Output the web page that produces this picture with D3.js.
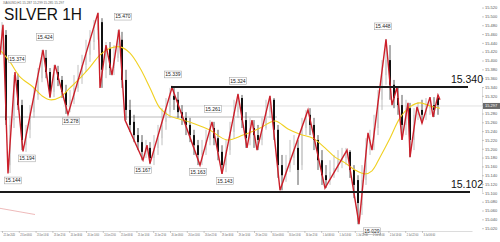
<!DOCTYPE html>
<html><head><meta charset="utf-8">
<script src="https://cdn.jsdelivr.net/npm/d3@7"></script>
<style>html,body{margin:0;padding:0;background:#fff;overflow:hidden}</style>
</head><body><svg id="c" width="500" height="242"></svg>
<script>
// ---------- DATA ----------
const cOpen = [15.424,15.458,15.163,15.265,15.356,15.299,15.208,15.243,15.283,15.322,
15.360,15.406,15.374,15.329,15.374,15.356,15.329,15.299,15.311,15.338,
15.360,15.390,15.413,15.442,15.469,15.487,15.379,15.428,15.383,15.406,
15.447,15.356,15.288,15.261,15.231,15.215,15.193,15.202,15.179,15.202,
15.224,15.261,15.283,15.320,15.311,15.283,15.270,15.254,15.231,15.208,
15.186,15.197,15.220,15.247,15.224,15.193,15.163,15.197,15.238,15.283,
15.315,15.265,15.224,15.247,15.231,15.220,15.247,15.283,15.311,15.243,
15.163,15.140,15.156,15.179,15.202,15.163,15.247,15.277,15.254,15.220,
15.174,15.140,15.129,15.147,15.156,15.174,15.179,15.193,15.152,15.129,
15.072,15.129,15.197,15.220,15.247,15.311,15.367,15.401,15.345,15.315,
15.299,15.254,15.292,15.220,15.277,15.288,15.277,15.292,15.299,15.315];
const cHigh = [15.487,15.469,15.270,15.367,15.370,15.311,15.254,15.299,15.338,15.383,
15.424,15.424,15.383,15.390,15.388,15.365,15.345,15.333,15.367,15.390,
15.413,15.447,15.469,15.492,15.508,15.496,15.442,15.442,15.435,15.469,
15.465,15.379,15.311,15.277,15.247,15.231,15.220,15.215,15.231,15.254,
15.292,15.315,15.338,15.340,15.329,15.299,15.283,15.270,15.243,15.220,
15.220,15.243,15.265,15.261,15.243,15.208,15.220,15.261,15.311,15.326,
15.322,15.283,15.270,15.265,15.254,15.270,15.311,15.320,15.315,15.254,
15.186,15.186,15.220,15.231,15.220,15.270,15.288,15.292,15.270,15.231,
15.197,15.163,15.174,15.186,15.197,15.202,15.202,15.197,15.163,15.140,
15.163,15.224,15.243,15.277,15.333,15.401,15.449,15.435,15.356,15.340,
15.322,15.311,15.304,15.292,15.306,15.311,15.315,15.317,15.317,15.322];
const cLow = [15.413,15.254,15.145,15.247,15.288,15.197,15.193,15.224,15.270,15.311,
15.351,15.360,15.315,15.317,15.342,15.315,15.279,15.283,15.301,15.329,
15.347,15.374,15.397,15.424,15.447,15.338,15.360,15.367,15.367,15.397,
15.338,15.265,15.238,15.215,15.197,15.174,15.179,15.165,15.163,15.186,
15.208,15.243,15.270,15.288,15.270,15.254,15.231,15.215,15.186,15.163,
15.163,15.186,15.208,15.208,15.174,15.143,15.147,15.186,15.224,15.270,
15.247,15.202,15.208,15.202,15.197,15.208,15.243,15.270,15.220,15.134,
15.106,15.125,15.147,15.163,15.118,15.152,15.231,15.231,15.197,15.152,
15.118,15.111,15.118,15.134,15.147,15.156,15.163,15.134,15.088,15.029,
15.050,15.118,15.186,15.197,15.231,15.288,15.345,15.311,15.292,15.277,
15.220,15.231,15.181,15.197,15.265,15.258,15.265,15.277,15.272,15.277];
const cClose = [15.469,15.265,15.254,15.345,15.299,15.220,15.243,15.283,15.322,15.360,
15.406,15.374,15.329,15.374,15.356,15.329,15.299,15.311,15.338,15.360,
15.390,15.413,15.442,15.469,15.492,15.379,15.428,15.383,15.406,15.451,
15.356,15.288,15.254,15.231,15.215,15.193,15.202,15.179,15.202,15.224,
15.261,15.283,15.320,15.311,15.283,15.270,15.254,15.231,15.208,15.186,
15.197,15.220,15.247,15.224,15.193,15.163,15.197,15.238,15.283,15.315,
15.265,15.224,15.247,15.231,15.220,15.247,15.283,15.311,15.243,15.163,
15.140,15.156,15.179,15.197,15.152,15.247,15.277,15.254,15.220,15.174,
15.140,15.129,15.147,15.156,15.174,15.179,15.193,15.152,15.118,15.077,
15.129,15.197,15.220,15.247,15.311,15.367,15.401,15.345,15.315,15.299,
15.254,15.292,15.220,15.277,15.288,15.277,15.292,15.299,15.288,15.299];

// zigzag pivots (bar position, price)
const zzIdx = [0,0.75,2,3.75,5.75,10.75,12.5,13.75,17,24.5,25,26.5,28,29.75,31.25,35.75,36.75,37.5,43,50,53,55.5,59.5,61.75,63,64.25,67.5,70,77,81.25,86.75,89.75,92,93,96.5,98,99.25,100.5,102,102.5,104.25,105.5,107.5,108.25,109.5,110];
const zzPrice = [15.413,15.481,15.144,15.374,15.194,15.424,15.317,15.390,15.278,15.508,15.338,15.435,15.367,15.470,15.265,15.174,15.208,15.167,15.339,15.163,15.261,15.143,15.324,15.202,15.265,15.197,15.320,15.106,15.288,15.111,15.197,15.029,15.236,15.197,15.448,15.299,15.340,15.220,15.304,15.181,15.295,15.258,15.317,15.272,15.322,15.311];

// moving average
const maIdx = [0,2.5,5,8.25,10.5,12.5,15,17.5,20,22.5,25,27.5,30,32.5,35,37.5,40,42.5,45,48.75,52.5,56.75,60.75,65,68.75,72,75,78.25,81.25,83.75,86.25,88.75,91.25,93,95,97.5,100,102.5,105,107.5,110];
const maPrice = [15.424,15.397,15.363,15.340,15.320,15.311,15.317,15.338,15.360,15.385,15.413,15.428,15.431,15.417,15.383,15.338,15.292,15.274,15.267,15.256,15.242,15.220,15.231,15.247,15.263,15.245,15.233,15.224,15.202,15.181,15.168,15.152,15.143,15.150,15.181,15.224,15.270,15.295,15.304,15.297,15.292];

// pivot labels
const lblPrice = [15.144,15.374,15.194,15.424,15.278,15.470,15.167,15.339,15.261,15.324,15.163,15.143,15.029,15.448];
const lblIdx   = [3.25,4.25,6.75,11.25,17.75,30.75,35.75,43.25,53.25,59.5,49.5,56.25,93,95.75];
const lblHigh  = [false,true,false,true,false,true,false,true,true,true,false,false,false,true];

// key levels
const levels = [15.340, 15.102];
const levelFrom = [42.75, 0];
const levelTo = [117, 117.5];

// thin grey lines
const greyLevels = [15.272, 15.297];
const greyFrom = [0, 15.75];
const greyTo = [69.25, 120.5];
const lastPrice = 15.297;

const priceTicks = [15.02,15.04,15.06,15.08,15.10,15.12,15.14,15.16,15.18,15.20,15.22,15.24,15.26,15.28,15.30,15.32,15.34,15.36,15.38,15.40,15.42,15.44,15.46,15.48,15.50,15.52];
const timeLabels = ["22 Jun 2020","23 Jun 06:00","23 Jun 14:00","23 Jun 22:00","24 Jun 06:00","24 Jun 14:00","24 Jun 22:00","25 Jun 06:00","25 Jun 14:00","25 Jun 22:00","26 Jun 06:00","26 Jun 14:00","26 Jun 22:00","29 Jun 06:00","29 Jun 14:00","29 Jun 22:00","30 Jun 06:00","30 Jun 14:00","30 Jun 22:00","1 Jul 06:00","1 Jul 14:00","1 Jul 22:00","2 Jul 06:00","2 Jul 14:00","2 Jul 22:00","3 Jul 06:00"];

// ---------- CHART ----------
const svg = d3.select("#c");
const x = d3.scaleLinear().domain([0,118]).range([0,472]);
const y = d3.scaleLinear().domain([15.102,15.340]).range([192,87]);
const PR = 482, PB = 231;
const FONT = "'Liberation Sans', Arial, sans-serif";

svg.append("rect").attr("width",500).attr("height",242).attr("fill","#fff");
svg.append("defs").append("clipPath").attr("id","clip")
  .append("rect").attr("x",0).attr("y",0).attr("width",PR).attr("height",PB);
const plot = svg.append("g").attr("clip-path","url(#clip)");

// grey reference lines
greyLevels.forEach((lv,i)=>{
  plot.append("line").attr("x1",x(greyFrom[i])).attr("x2",x(greyTo[i]))
    .attr("y1",y(lv)).attr("y2",y(lv))
    .attr("stroke", i===0 ? "#a8a8a8" : "#d8d8d8").attr("stroke-width",0.8);
});

// faint trend line bottom-left
plot.append("line").attr("x1",x(0)).attr("x2",x(8.75))
  .attr("y1",y(15.065)).attr("y2",y(15.051))
  .attr("stroke","#eaa8a8").attr("stroke-width",0.8);

// candles
const candles = cOpen.map((o,i)=>({i,o,h:cHigh[i],l:cLow[i],c:cClose[i]}));
const cg = plot.append("g");
cg.selectAll("line").data(candles).join("line")
  .attr("x1",d=>x(d.i+0.5)).attr("x2",d=>x(d.i+0.5))
  .attr("y1",d=>y(d.h)).attr("y2",d=>y(d.l))
  .attr("stroke",d=>d.c>=d.o?"#b0b0b0":"#333").attr("stroke-width",0.8);
cg.selectAll("rect").data(candles).join("rect")
  .attr("x",d=>x(d.i+0.5)-1).attr("width",2)
  .attr("y",d=>Math.min(y(d.o),y(d.c)))
  .attr("height",d=>Math.max(1,Math.abs(y(d.o)-y(d.c))))
  .attr("fill",d=>d.c>=d.o?"#d2d2d2":"#111");

// moving average
plot.append("path")
  .datum(maIdx.map((t,i)=>[t,maPrice[i]]))
  .attr("fill","none").attr("stroke","#f0d020").attr("stroke-width",1.1)
  .attr("d",d3.line().x(d=>x(d[0])).y(d=>y(d[1])).curve(d3.curveCatmullRom));

// zigzag
plot.append("path")
  .datum(zzIdx.map((t,i)=>[t,zzPrice[i]]))
  .attr("fill","none").attr("stroke","#cc1f2a").attr("stroke-width",1.4)
  .attr("stroke-linejoin","miter")
  .attr("d",d3.line().x(d=>x(d[0])).y(d=>y(d[1])));

// key levels
levels.forEach((lv,i)=>{
  svg.append("line").attr("x1",x(levelFrom[i])).attr("x2",x(levelTo[i]))
    .attr("y1",y(lv)).attr("y2",y(lv)).attr("stroke","#1a1a1a").attr("stroke-width",2);
});

// pivot labels
const lg = svg.append("g");
lblPrice.forEach((p,i)=>{
  const cx = x(lblIdx[i]), cy = y(p) + (lblHigh[i] ? -13 : 7);
  lg.append("rect").attr("x",cx-8.5).attr("y",cy-3.4).attr("width",17).attr("height",6.8)
    .attr("fill","#fff").attr("stroke","#9a9a9a").attr("stroke-width",0.5);
  lg.append("text").attr("x",cx).attr("y",cy+1.8).attr("text-anchor","middle")
    .attr("font-family",FONT).attr("font-size",5).attr("fill","#222")
    .text(d3.format(".3f")(p));
});

// axes
const ax = svg.append("g").attr("transform",`translate(0,${PB})`)
  .call(d3.axisBottom(x).tickValues(timeLabels.map((_,k)=>0.5+4.2*k))
    .tickFormat((d,k)=>timeLabels[k]).tickSize(2).tickSizeOuter(0));
ax.select(".domain").attr("stroke","#c4c4c4").attr("stroke-width",0.6);
ax.selectAll(".tick line").attr("stroke","#999").attr("stroke-width",0.5);
ax.selectAll(".tick text").attr("font-family",FONT).attr("font-size",2.6).attr("fill","#555")
  .attr("text-anchor","start").attr("x",1).attr("y",3).attr("dy","0.71em")
  .attr("textLength",11.5).attr("lengthAdjust","spacingAndGlyphs");

const ay = svg.append("g").attr("transform",`translate(${PR},0)`)
  .call(d3.axisRight(y).tickValues(priceTicks).tickFormat(d3.format(".3f")).tickSize(2).tickSizeOuter(0));
ay.select(".domain").attr("stroke","#c4c4c4").attr("stroke-width",0.6);
ay.selectAll(".tick line").attr("stroke","#999").attr("stroke-width",0.5);
ay.selectAll(".tick text").attr("font-family",FONT).attr("font-size",4).attr("fill","#555").attr("x",3);

// last price tag
svg.append("rect").attr("x",PR+1).attr("y",y(lastPrice)-3).attr("width",17).attr("height",6).attr("fill","#6a6a6a");
svg.append("text").attr("x",PR+3).attr("y",y(lastPrice)+1.5).attr("font-family",FONT)
  .attr("font-size",4).attr("fill","#fff").text(d3.format(".3f")(lastPrice));

// level labels
levels.forEach((lv,i)=>{
  svg.append("text").attr("x", 483).attr("y",y(lv)-4)
    .attr("text-anchor","end").attr("font-family",FONT).attr("font-size",10.5)
    .attr("fill","#111").text(d3.format(".3f")(lv));
});

// header text
svg.append("text").attr("x",3).attr("y",3.6).attr("font-family",FONT).attr("font-size",3.2)
  .attr("fill","#666").text("XAGUSD,H1  15.287 15.299 15.285 15.297");
svg.append("text").attr("x",4).attr("y",19.5).attr("font-family",FONT).attr("font-size",17)
  .attr("fill","#111").attr("textLength",78).attr("lengthAdjust","spacingAndGlyphs").text("SILVER 1H");
</script></body></html>
